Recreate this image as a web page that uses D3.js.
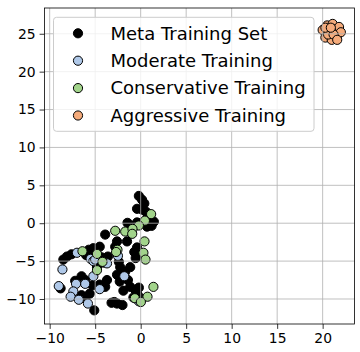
<!DOCTYPE html>
<html>
<head>
<meta charset="utf-8">
<script src="https://cdn.jsdelivr.net/npm/d3@7"></script>
<style>
  body { margin: 0; background: #fff; }
  svg { font-family: "DejaVu Sans", sans-serif; }
</style>
</head>
<body>
<svg width="360" height="352"></svg>
<script>
// series, [x, y]
const metaPoints = [
  [-0.2,3.6],[0.15,3.1],[0.4,2.6],[-0.4,1.9],[0.15,1.8],[0.6,1.5],[0.8,1.0],[1.0,0.6],
  [1.45,0.2],[1.2,-0.35],[0.7,-0.45],[-0.4,0.1],[-1.45,0.05],[-1.0,-0.4],[0.0,0.0],
  [-3.9,-1.5],[-2.6,-2.4],[-1.5,-2.4],[-2.8,-3.1],[-0.4,-3.2],[-0.7,-3.8],[-0.55,-4.6],
  [-0.3,-4.0],[-1.15,-5.8],[-1.7,-6.4],[-2.1,-7.0],[-2.3,-7.7],[-1.4,-7.5],[-1.15,-8.4],
  [-0.6,-8.8],[-1.9,-8.9],[-0.3,-9.5],[-3.2,-10.5],[-2.6,-10.6],[-2.0,-10.8],[-2.9,-10.4],
  [-5.1,-11.5],[-8.5,-4.8],[-8.1,-4.4],[-7.6,-4.1],[-5.7,-3.5],[-5.2,-3.3],[-4.5,-3.1],
  [-4.3,-4.5],[-5.0,-4.0],[-6.0,-4.2],[-3.6,-4.4],[-4.1,-5.2],[-6.5,-7.0],[-6.1,-7.5],
  [-3.7,-7.5],[-3.9,-8.4],[-4.5,-8.1],[-6.5,-9.5],[-6.1,-9.9],[-5.6,-9.3],[-8.8,-8.6],
  [-2.4,-5.1],[-2.25,-5.8],[-7.2,-7.6],[-5.3,-8.2],[-4.8,-5.8],[-0.8,-9.8],[-0.2,-8.5],
  [-2.6,-6.8]
];
const moderatePoints = [
  [-8.6,-6.1],[-9.0,-8.3],[-7.0,-3.9],[-5.5,-4.7],[-5.2,-5.0],[-3.7,-5.3],[-2.5,-4.3],
  [-5.2,-7.0],[-4.5,-8.7],[-6.1,-8.0],[-7.1,-8.0],[-7.4,-9.0],[-7.7,-9.7],[-6.8,-10.1],
  [-5.8,-10.6],[-1.8,-7.0],[-0.2,-10.3],[-5.0,-4.8]
];
const conservativePoints = [
  [1.15,1.2],[0.46,0.34],[-0.2,-0.3],[-2.8,-1.0],[-1.7,-1.1],[-0.9,-0.75],[-0.93,-1.4],
  [0.42,-2.4],[0.3,-3.9],[0.53,-4.8],[-2.55,-3.5],[-2.7,-3.8],[-6.4,-3.7],[-4.8,-4.05],
  [-4.2,-5.1],[-4.8,-6.2],[1.4,-8.4],[-0.64,-9.9],[0.75,-9.7],[0.02,-10.4]
];
const aggressivePoints = [
  [20.0,25.5],[20.3,24.5],[20.5,26.1],[20.8,25.2],[21.0,24.2],[21.1,26.3],[21.3,25.6],
  [21.6,24.8],[21.8,25.9],[22.0,25.2],[20.6,24.9],[21.2,24.9],[20.3,25.8],[21.6,24.2],
  [20.9,25.8]
];
const seriesNames = ['Meta Training Set', 'Moderate Training', 'Conservative Training', 'Aggressive Training'];
const seriesColors = ['#000000', '#afc8e8', '#a2d48b', '#f5ab7b'];
const xTicks = [-10, -5, 0, 5, 10, 15, 20];
const yTicks = [-10, -5, 0, 5, 10, 15, 20, 25];

const margin = {left: 44.5, right: 5.5, top: 8, bottom: 28};
const width = 360 - margin.left - margin.right;
const height = 352 - margin.top - margin.bottom;

const svg = d3.select('svg');
const g = svg.append('g').attr('transform', `translate(${margin.left},${margin.top})`);

const x = d3.scaleLinear().domain([-10.57, 23.5]).range([0, width]);
const y = d3.scaleLinear().domain([-13.3, 28.4]).range([height, 0]);

const fmt = d => (d < 0 ? '\u2212' + Math.abs(d) : '' + d);

// scatter series
const allSeries = [metaPoints, moderatePoints, conservativePoints, aggressivePoints];
allSeries.forEach((pts, i) => {
  g.append('g').selectAll('circle')
    .data(pts)
    .enter().append('circle')
    .attr('cx', d => x(d[0]))
    .attr('cy', d => y(d[1]))
    .attr('r', 4.6)
    .attr('fill', seriesColors[i])
    .attr('stroke', '#000')
    .attr('stroke-width', 1);
});

// grid sits above the markers, as matplotlib draws it
const grid = g.append('g').attr('stroke', '#b0b0b0').attr('stroke-width', 0.8);
grid.selectAll('.gx').data(xTicks).enter().append('line')
  .attr('x1', d => x(d)).attr('x2', d => x(d))
  .attr('y1', 0).attr('y2', height);
grid.selectAll('.gy').data(yTicks).enter().append('line')
  .attr('y1', d => y(d)).attr('y2', d => y(d))
  .attr('x1', 0).attr('x2', width);

// axes
const xAxis = g.append('g')
  .attr('transform', `translate(0,${height})`)
  .call(d3.axisBottom(x).tickValues(xTicks).tickFormat(fmt).tickSizeInner(4.9).tickSizeOuter(0).tickPadding(4));
const yAxis = g.append('g')
  .call(d3.axisLeft(y).tickValues(yTicks).tickFormat(fmt).tickSizeInner(4.9).tickSizeOuter(0).tickPadding(4));
[xAxis, yAxis].forEach(a => {
  a.selectAll('text').attr('font-size', 13.9).attr('fill', '#000').attr('font-family', 'DejaVu Sans');
  a.selectAll('.tick line').attr('stroke', '#000').attr('stroke-width', 0.8);
  a.select('.domain').remove();
});

g.append('rect')
  .attr('width', width).attr('height', height)
  .attr('fill', 'none').attr('stroke', '#000').attr('stroke-width', 0.8);

// legend
const legend = g.append('g').attr('transform', 'translate(9,9.3)');
legend.append('rect')
  .attr('width', 260.5).attr('height', 114)
  .attr('rx', 3)
  .attr('fill', '#fff').attr('fill-opacity', 0.8)
  .attr('stroke', '#cccccc').attr('stroke-width', 1);
const rows = legend.selectAll('.row').data(seriesNames).enter().append('g')
  .attr('transform', (d, i) => `translate(0,${16 + i * 27.4})`);
rows.append('circle')
  .attr('cx', 24.5).attr('cy', 0).attr('r', 4.6)
  .attr('fill', (d, i) => seriesColors[i])
  .attr('stroke', '#000').attr('stroke-width', 1);
rows.append('text')
  .attr('x', 57).attr('y', 0).attr('dy', '0.35em')
  .attr('font-size', 18)
  .text(d => d);
</script>
</body>
</html>
